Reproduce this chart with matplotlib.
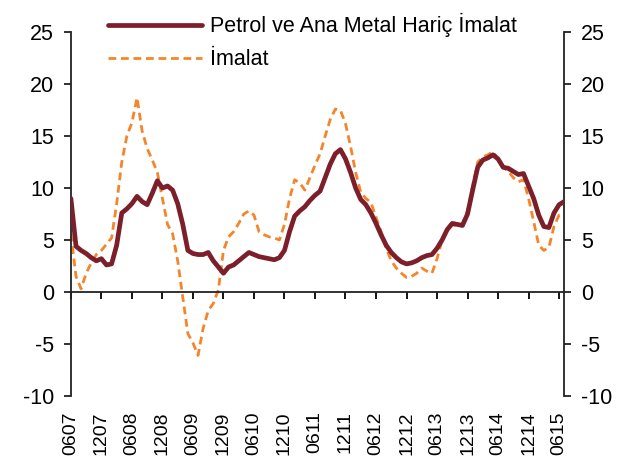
import matplotlib.pyplot as plt
import numpy as np

plt.rcParams['font.family'] = ['Liberation Sans', 'DejaVu Sans']
plt.rcParams['axes.unicode_minus'] = False

# monthly, 06/2007 .. 07/2015
tick_labels = ["0607", "1207", "0608", "1208", "0609", "1209", "0610", "1210",
               "0611", "1211", "0612", "1212", "0613", "1213", "0614", "1214", "0615"]

# Petrol ve Ana Metal Haric Imalat
petrol = [9.0, 4.4, 4.0, 3.7, 3.3, 3.0, 3.2, 2.6, 2.7, 4.5,
          7.6, 8.0, 8.5, 9.2, 8.7, 8.4, 9.5, 10.7, 10.0, 10.2,
          9.8, 8.5, 6.5, 4.0, 3.7, 3.6, 3.6, 3.8, 3.0, 2.4,
          1.8, 2.4, 2.6, 3.0, 3.4, 3.8, 3.6, 3.4, 3.3, 3.2,
          3.1, 3.3, 4.0, 5.8, 7.3, 7.8, 8.2, 8.8, 9.3, 9.7,
          11.0, 12.3, 13.3, 13.7, 12.8, 11.5, 10.0, 8.9, 8.4, 7.6,
          6.6, 5.5, 4.5, 3.8, 3.3, 2.9, 2.7, 2.8, 3.0, 3.3,
          3.5, 3.6, 4.2, 5.0, 6.0, 6.6, 6.5, 6.4, 7.5, 9.8,
          12.0, 12.7, 12.9, 13.2, 12.8, 12.0, 11.9, 11.6, 11.3, 11.4,
          10.2, 9.0, 7.4, 6.3, 6.2, 7.6, 8.4, 8.7]

# Imalat
imalat = [5.6, 1.5, 0.3, 1.8, 2.8, 3.6, 4.0, 4.6, 5.2, 8.5,
          12.5, 15.0, 16.3, 18.7, 15.5, 13.8, 12.7, 11.5, 9.0, 6.5,
          5.6, 3.0, -0.5, -4.0, -4.9, -6.1, -3.5, -1.8, -1.1, 0.2,
          4.0, 5.3, 5.8, 6.6, 7.5, 7.8, 7.4, 5.8, 5.5, 5.3,
          5.2, 5.0, 6.5, 9.0, 10.8, 10.5, 9.8, 11.0, 12.2, 13.3,
          15.0, 16.6, 17.6, 17.5, 16.2, 14.0, 11.5, 9.6, 9.0, 8.6,
          7.2, 5.8, 4.2, 3.0, 2.3, 1.8, 1.4, 1.5, 1.8, 2.3,
          2.0, 1.8, 3.2, 5.0, 6.2, 6.5, 6.3, 6.6, 7.8, 10.2,
          12.5, 13.0, 13.2, 13.5, 12.8, 12.0, 11.6, 11.0, 10.6, 10.8,
          9.0, 6.8, 4.5, 4.0, 4.3, 6.3, 7.4, 7.5]

x = np.arange(len(petrol))

fig = plt.figure(figsize=(6.22, 4.73), dpi=100)
ax = fig.add_axes([0.114, 0.163, 0.793, 0.769])

ax.plot(x, imalat, color='#f5852a', lw=2.0, dashes=(2.8, 1.7), label='İmalat', zorder=2)
ax.plot(x, petrol, color='#7d1f2a', lw=3.4, label='Petrol ve Ana Metal Hariç İmalat',
        zorder=3, solid_capstyle='round')

ax.set_xlim(0, len(petrol) - 1)
ax.set_ylim(-10, 25)
ax.set_yticks(range(-10, 26, 5))

ax.spines['top'].set_visible(False)
ax.spines['bottom'].set_position(('data', 0))
for s in ax.spines.values():
    s.set_color('#222222')
    s.set_linewidth(1.3)

ax.tick_params(axis='y', direction='out', length=5, width=1.3, pad=7,
               labelsize=15.5, right=True, labelright=True, colors='#222222')
ax.tick_params(axis='y', labelcolor='black')

xt = np.arange(0, len(petrol), 6)
ax.set_xticks(xt)
ax.tick_params(axis='x', direction='out', length=5, width=1.3, labelbottom=False)

sec = ax.secondary_xaxis('bottom')
sec.set_xticks(xt, tick_labels, rotation=90, fontsize=14)
sec.tick_params(length=0, pad=11)
sec.spines['bottom'].set_visible(False)

h, l = ax.get_legend_handles_labels()
fig.legend(h[::-1], l[::-1], loc='upper left', bbox_to_anchor=(0.142, 1.013),
           frameon=False, fontsize=15.5, handlelength=4.4, handletextpad=0.35,
           labelspacing=0.55)

fig.savefig('out.png', dpi=100)
